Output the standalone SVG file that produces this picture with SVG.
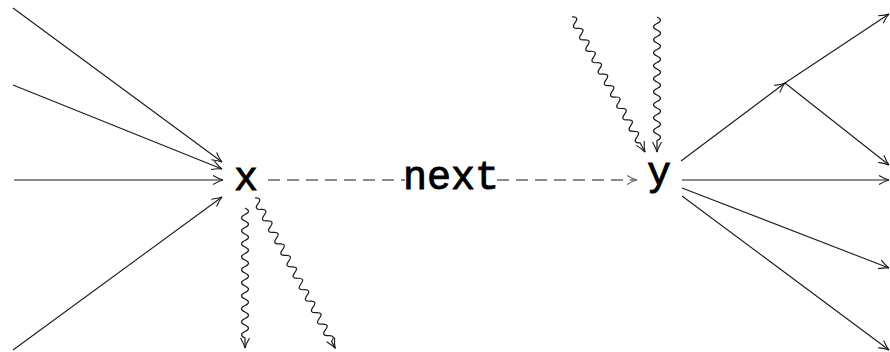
<svg xmlns="http://www.w3.org/2000/svg" width="890" height="352" viewBox="0 0 890 352">
<style>
.e{fill:none;stroke:#1a1a1a;stroke-width:1.1}
.w{fill:none;stroke:#1a1a1a;stroke-width:1.2}
.d{fill:none;stroke:#666;stroke-width:1.3;stroke-dasharray:12 7}
.t{font-family:"Liberation Mono","DejaVu Sans Mono",monospace;font-size:40px;fill:#000;stroke:#000;stroke-width:0.9}
</style>
<defs>
<marker id="a" markerUnits="userSpaceOnUse" markerWidth="14" markerHeight="12" viewBox="-12 -6 14 12" refX="0" refY="0" orient="auto">
<path d="M-10,-4.5 Q-4,-1 0,0 Q-4,1 -10,4.5" fill="none" stroke="#1a1a1a" stroke-width="1.1"/>
</marker>
<marker id="g" markerUnits="userSpaceOnUse" markerWidth="14" markerHeight="12" viewBox="-12 -6 14 12" refX="0" refY="0" orient="auto">
<path d="M-10,-4.5 Q-4,-1 0,0 Q-4,1 -10,4.5" fill="none" stroke="#666" stroke-width="1.2"/>
</marker>
</defs>
<g id="connectors">
<line class="e" x1="13" y1="8" x2="222" y2="162" marker-end="url(#a)"/>
<line class="e" x1="13" y1="85" x2="222" y2="169" marker-end="url(#a)"/>
<line class="e" x1="14" y1="180" x2="223" y2="180" marker-end="url(#a)"/>
<line class="e" x1="13" y1="350" x2="222" y2="197" marker-end="url(#a)"/>
<line class="d" x1="268" y1="180" x2="405" y2="180"/>
<line class="d" x1="497" y1="180" x2="637" y2="180" marker-end="url(#g)"/>
<path class="w" transform="translate(245,208) rotate(90)" marker-end="url(#a)" d="M0,0 q3.25,-7 6.5,0 t6.5,0 t6.5,0 t6.5,0 t6.5,0 t6.5,0 t6.5,0 t6.5,0 t6.5,0 t6.5,0 t6.5,0 t6.5,0 t6.5,0 t6.5,0 t6.5,0 t6.5,0 t6.5,0 t6.5,0 t6.5,0 t6.5,0 l10,0"/>
<path class="w" transform="translate(255,198) rotate(61.9)" marker-end="url(#a)" d="M0,0 q3.25,-7 6.5,0 t6.5,0 t6.5,0 t6.5,0 t6.5,0 t6.5,0 t6.5,0 t6.5,0 t6.5,0 t6.5,0 t6.5,0 t6.5,0 t6.5,0 t6.5,0 t6.5,0 t6.5,0 t6.5,0 t6.5,0 t6.5,0 t6.5,0 t6.5,0 t6.5,0 t6.5,0 t6.5,0 t6.5,0 l8,0"/>
<path class="w" transform="translate(572,17) rotate(61.6)" marker-end="url(#a)" d="M0,0 q3.25,-7 6.5,0 t6.5,0 t6.5,0 t6.5,0 t6.5,0 t6.5,0 t6.5,0 t6.5,0 t6.5,0 t6.5,0 t6.5,0 t6.5,0 t6.5,0 t6.5,0 t6.5,0 t6.5,0 t6.5,0 t6.5,0 t6.5,0 t6.5,0 t6.5,0 t6.5,0 l10.5,0"/>
<path class="w" transform="translate(657,17) rotate(90)" marker-end="url(#a)" d="M0,0 q3.25,-7 6.5,0 t6.5,0 t6.5,0 t6.5,0 t6.5,0 t6.5,0 t6.5,0 t6.5,0 t6.5,0 t6.5,0 t6.5,0 t6.5,0 t6.5,0 t6.5,0 t6.5,0 t6.5,0 t6.5,0 t6.5,0 t6.5,0 l11.5,0"/>
<line class="e" x1="681" y1="161" x2="785" y2="83" marker-end="url(#a)"/>
<line class="e" x1="785" y1="83" x2="889" y2="14" marker-end="url(#a)"/>
<line class="e" x1="785" y1="83" x2="889" y2="165" marker-end="url(#a)"/>
<line class="e" x1="682" y1="180" x2="889" y2="180" marker-end="url(#a)"/>
<line class="e" x1="682" y1="188" x2="889" y2="268" marker-end="url(#a)"/>
<line class="e" x1="682" y1="196" x2="889" y2="350" marker-end="url(#a)"/>
</g>
<g id="node-x"><text class="t" x="246" y="190" text-anchor="middle">x</text></g>
<g id="label-next"><text class="t" x="451" y="189" text-anchor="middle">next</text></g>
<g id="node-y"><text class="t" x="659" y="185" text-anchor="middle">y</text></g>
</svg>
